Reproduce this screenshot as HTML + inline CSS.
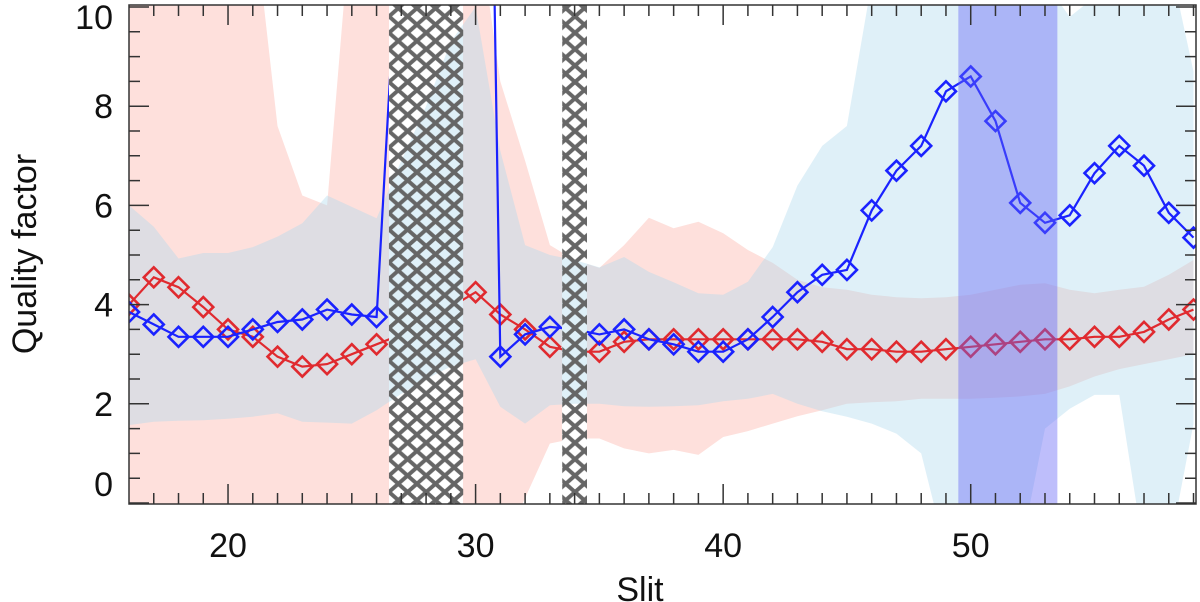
<!DOCTYPE html>
<html><head><meta charset="utf-8"><style>
html,body{margin:0;padding:0;background:#fff;}
svg{display:block;font-family:"Liberation Sans",sans-serif;}
</style></head><body>
<svg id="chart" width="1200" height="602" viewBox="0 0 1200 602" xmlns="http://www.w3.org/2000/svg">
<defs>
<pattern id="xhatch" patternUnits="userSpaceOnUse" width="18.6" height="16.4" x="389" y="0">
<path d="M0,0 L18.6,16.4 M18.6,0 L0,16.4 M-2,14.6 L2,18.2 M16.6,-1.8 L20.6,1.8 M-2,1.8 L2,-1.8 M16.6,18.2 L20.6,14.6" stroke="#666" stroke-width="4" stroke-linecap="square"/>
</pattern>
<clipPath id="plotclip"><rect x="129" y="5" width="1067" height="499"/></clipPath>
<clipPath id="nohatch">
<rect x="129" y="5" width="260" height="499"/>
<rect x="463" y="5" width="99" height="499"/>
<rect x="587" y="5" width="609" height="499"/>
</clipPath>
</defs>
<g id="plot" clip-path="url(#plotclip)"></g>
<g id="axes"></g>
</svg>
<script>
const slits = [16,17,18,19,20,21,22,23,24,25,26,27,28,29,30,31,32,33,34,35,36,37,38,39,40,41,42,43,44,45,46,47,48,49,50,51,52,53,54,55,56,57,58,59];
const blueQ = [3.85,3.6,3.35,3.35,3.35,3.5,3.65,3.7,3.9,3.8,3.75,12.65,null,null,34,2.95,3.4,3.55,3.5,3.4,3.5,3.3,3.2,3.05,3.05,3.3,3.75,4.25,4.6,4.7,5.9,6.7,7.2,8.3,8.6,7.7,6.05,5.65,5.8,6.65,7.2,6.8,5.85,5.35];
const redQ = [4.0,4.55,4.35,3.95,3.5,3.35,2.95,2.75,2.8,3.0,3.2,3.4,null,3.95,4.25,3.8,3.5,3.15,3.05,3.05,3.25,3.3,3.3,3.3,3.3,3.3,3.3,3.3,3.25,3.1,3.1,3.05,3.05,3.1,3.15,3.2,3.25,3.3,3.3,3.35,3.35,3.45,3.7,3.9];
const blueMarkerHidden = [27,28,29,30,34];
const redMarkerHidden = [27,28,29,34];
const redUpper = [12,12,12,12,12,12,7.6,6.2,6.0,12,12,12,12,12,12,8.5,6.9,5.2,4.9,4.74,5.2,5.75,5.54,5.67,5.44,5.1,4.84,4.5,4.35,4.3,4.2,4.15,4.13,4.15,4.2,4.3,4.4,4.43,4.3,4.23,4.3,4.36,4.6,4.9];
const redLower = [-1,-1,-1,-1,-1,-1,-1,-1,-1,-1,-1,-1,-1,-1,-1,-1,0.1,1.2,1.3,1.3,1.1,1.0,1.07,0.97,1.33,1.45,1.6,1.75,1.87,2.0,2.03,2.05,2.1,2.1,2.1,2.12,2.15,2.2,2.35,2.55,2.7,2.8,2.9,3.0];
const blueUpper = [6.0,5.57,4.93,5.04,5.04,5.16,5.37,5.64,6.2,5.97,5.74,6.9,8.0,9.3,10,7.1,5.2,5.0,4.9,4.75,4.96,4.66,4.45,4.23,4.2,4.46,5.16,6.4,7.2,7.6,10.5,11,11,11,11,11,11,10.5,9.8,10.2,11,11,11,8.7];
const blueLower = [1.57,1.64,1.66,1.67,1.7,1.74,1.81,1.64,1.62,1.6,1.87,2.2,2.5,2.75,2.9,1.94,1.6,1.97,2.0,2.0,1.95,1.94,1.95,1.97,2.05,2.1,2.2,2.0,1.85,1.74,1.6,1.4,1.0,-1,-1,-1,-1,1.5,1.9,2.18,2.18,-1,-1,1.6];
const hatchRanges = [[26.5,29.5],[33.5,34.5]];
const highlightRange = [49.5,53.5];
const xTicks = [20,30,40,50];
const yTicks = [0,2,4,6,8,10];

const X0=129, X1=1196, XMIN=16, XMAX=59.1;
const Y0=503, YS=49.6;
const xs = v => X0 + (v-XMIN)*(X1-X0)/(XMAX-XMIN);
const ys = v => Y0 - v*YS;
const NS='http://www.w3.org/2000/svg';
const plot=document.getElementById('plot'), axes=document.getElementById('axes');
function mk(tag, attrs, parent){const e=document.createElementNS(NS,tag);for(const k in attrs)e.setAttribute(k,attrs[k]);parent.appendChild(e);return e;}

function bandPath(up, lo){
  let d='';
  slits.forEach((s,i)=>{d+=(i?'L':'M')+xs(s).toFixed(1)+','+ys(up[i]).toFixed(1);});
  for(let i=slits.length-1;i>=0;i--) d+='L'+xs(slits[i]).toFixed(1)+','+ys(lo[i]).toFixed(1);
  return d+'Z';
}
const gRed = mk('g',{'clip-path':'url(#nohatch)'},plot);
let rb = mk('path',{d:bandPath(redUpper,redLower),fill:'#fee0dc'},gRed);


let bb = mk('path',{d:bandPath(blueUpper,blueLower),fill:'rgba(175,217,237,0.4)'},plot);


const gLines = mk('g',{'clip-path':'url(#nohatch)'},plot);

function series(vals, color, hidden, name){
  const g = mk('g',{},gLines);
  
  
  let d='', pen=false;
  slits.forEach((s,i)=>{const v=vals[i]; if(v===null){pen=false;return;} d+=(pen?'L':'M')+xs(s).toFixed(1)+','+ys(v).toFixed(1); pen=true;});
  mk('path',{d:d,fill:'none',stroke:color,'stroke-width':2.2},g);
  slits.forEach((s,i)=>{const v=vals[i]; if(v===null||hidden.includes(s))return;
    const x=xs(s), y=ys(v), r=10;
    const m=mk('path',{d:`M${x},${y-r}L${x+r},${y}L${x},${y+r}L${x-r},${y}Z`,fill:'none',stroke:color,'stroke-width':2.6},g);
    
    
  });
}
series(redQ,'#e02a2f',redMarkerHidden,'red');
series(blueQ,'#1a22ff',blueMarkerHidden,'blue');

let hb = mk('rect',{x:xs(highlightRange[0]),y:5,width:xs(highlightRange[1])-xs(highlightRange[0]),height:499,fill:'rgba(100,100,245,0.42)'},plot);


hatchRanges.forEach(r=>{
  const h=mk('rect',{x:xs(r[0]),y:5,width:xs(r[1])-xs(r[0]),height:499,fill:'url(#xhatch)'},plot);
  
  
});

let fr = mk('rect',{x:X0,y:5,width:X1-X0,height:499,fill:'none',stroke:'#333','stroke-width':1.5},axes);


let td='';
for(let v=17;v<=59;v++){const x=xs(v), L=(v%10===0)?20:11; td+=`M${x},504v${-L}M${x},5v${L}`;}
for(let v=0;v<=10.01;v+=0.5){const y=ys(v), L=(Math.abs(v%2)<0.01)?20:11; td+=`M${X0},${y}h${L}M${X1},${y}h${-L}`;}
mk('path',{d:td,stroke:'#333','stroke-width':1.5,fill:'none'},axes);
xTicks.forEach(t=>{const e=mk('text',{x:xs(t),y:557,'text-anchor':'middle','font-size':34,fill:'#111'},axes);e.textContent=t;
  
  });
yTicks.forEach(t=>{let y=ys(t)+12; if(t===0)y=496; if(t===10)y=29;
  const e=mk('text',{x:113,y:y,'text-anchor':'end','font-size':34,fill:'#111'},axes);e.textContent=t;
  
  });
let xt=mk('text',{x:640,y:601,'text-anchor':'middle','font-size':34,fill:'#111'},axes);xt.textContent='Slit';


let yt=mk('text',{x:0,y:0,'text-anchor':'middle','font-size':34,fill:'#111',transform:'translate(36,254) rotate(-90)'},axes);yt.textContent='Quality factor';


</script>
</body></html>
